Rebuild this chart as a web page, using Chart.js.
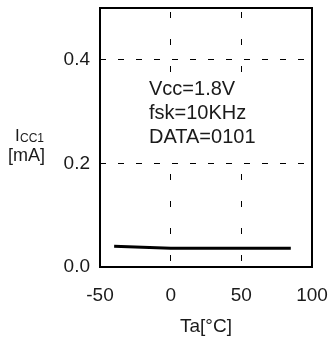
<!DOCTYPE html>
<html>
<head>
<meta charset="utf-8">
<script src="https://cdn.jsdelivr.net/npm/chart.js@4"></script>
<style>
  html, body { margin: 0; padding: 0; background: #fff; }
  #wrap { width: 331px; height: 338px; }
</style>
</head>
<body>
<div id="wrap"><canvas id="chart" width="331" height="338"></canvas></div>
<script>
// data
const temps = [-40, 0, 25, 50, 85];
const icc = [0.040, 0.036, 0.036, 0.036, 0.036];
const xTicks = [-50, 0, 50, 100];
const yTicks = [0, 0.2, 0.4];
const notes = ["Vcc=1.8V", "fsk=10KHz", "DATA=0101"];

const FONT = '"Liberation Sans", Arial, sans-serif';
const INK = '#1a1a1a';

// no label overhang, the layout padding alone places the plot box
function noPad(s) {
    s.paddingTop = 0;
    s.paddingBottom = 0;
    s.paddingLeft = 0;
    s.paddingRight = 0;
}

// frame, axis titles and the condition text
const extras = {
    id: 'extras',
    beforeDatasetsDraw(chart) {
        // white patch behind the conditions, hides the grid there
        const { ctx, chartArea: a } = chart;
        ctx.save();
        ctx.fillStyle = '#fff';
        ctx.fillRect(a.left + 45, 74, 118, 82);
        ctx.restore();
    },
    afterDatasetsDraw(chart) {
        const { ctx, chartArea: a } = chart;
        ctx.save();
        ctx.strokeStyle = '#000';
        ctx.lineWidth = 2;
        ctx.setLineDash([]);
        ctx.strokeRect(a.left, a.top, a.right - a.left, a.bottom - a.top);
        ctx.restore();
    },
    afterDraw(chart) {
        const { ctx, chartArea: a } = chart;
        ctx.save();
        ctx.fillStyle = INK;
        ctx.textBaseline = 'alphabetic';

        // x title
        ctx.font = '19px ' + FONT;
        ctx.textAlign = 'center';
        ctx.fillText('Ta[°C]', (a.left + a.right) / 2, 332);

        // y title with subscript
        ctx.textAlign = 'left';
        ctx.font = '17px ' + FONT;
        ctx.fillText('I', 15, 141);
        ctx.font = '12px ' + FONT;
        ctx.fillText('CC1', 20, 141.5);
        ctx.font = '18px ' + FONT;
        ctx.fillText('[mA]', 8, 161);

        // conditions
        ctx.font = '20px ' + FONT;
        notes.forEach((t, i) => ctx.fillText(t, a.left + 49, 95 + i * 24));
        ctx.restore();
    }
};

new Chart(document.getElementById('chart'), {
    type: 'line',
    data: {
        datasets: [{
            data: temps.map((t, i) => ({ x: t, y: icc[i] })),
            borderColor: '#000',
            borderWidth: 3,
            pointRadius: 0,
            tension: 0,
            fill: false
        }]
    },
    options: {
        responsive: false,
        animation: false,
        devicePixelRatio: 1,
        layout: { padding: { left: 0, right: 19, top: 8, bottom: 0 } },
        plugins: { legend: { display: false }, tooltip: { enabled: false } },
        scales: {
            x: {
                type: 'linear',
                min: -50,
                max: 100,
                afterBuildTicks: s => { s.ticks = xTicks.map(v => ({ value: v })); },
                afterFit: s => { s.height = 71; noPad(s); },
                ticks: {
                    color: INK,
                    font: { family: FONT, size: 19 },
                    padding: 17,
                    maxRotation: 0,
                    callback: v => String(v)
                },
                grid: { color: '#000', lineWidth: 1, drawTicks: false },
                border: { display: false, dash: [6, 21], dashOffset: 23 }
            },
            y: {
                type: 'linear',
                min: 0,
                max: 0.5,
                afterBuildTicks: s => { s.ticks = yTicks.map(v => ({ value: v })); },
                afterFit: s => { s.width = 100; noPad(s); },
                ticks: {
                    color: INK,
                    font: { family: FONT, size: 19 },
                    padding: 10,
                    callback: v => v.toFixed(1)
                },
                grid: { color: '#000', lineWidth: 1, drawTicks: false },
                border: { display: false, dash: [6, 12] }
            }
        }
    },
    plugins: [extras]
});
</script>
</body>
</html>
